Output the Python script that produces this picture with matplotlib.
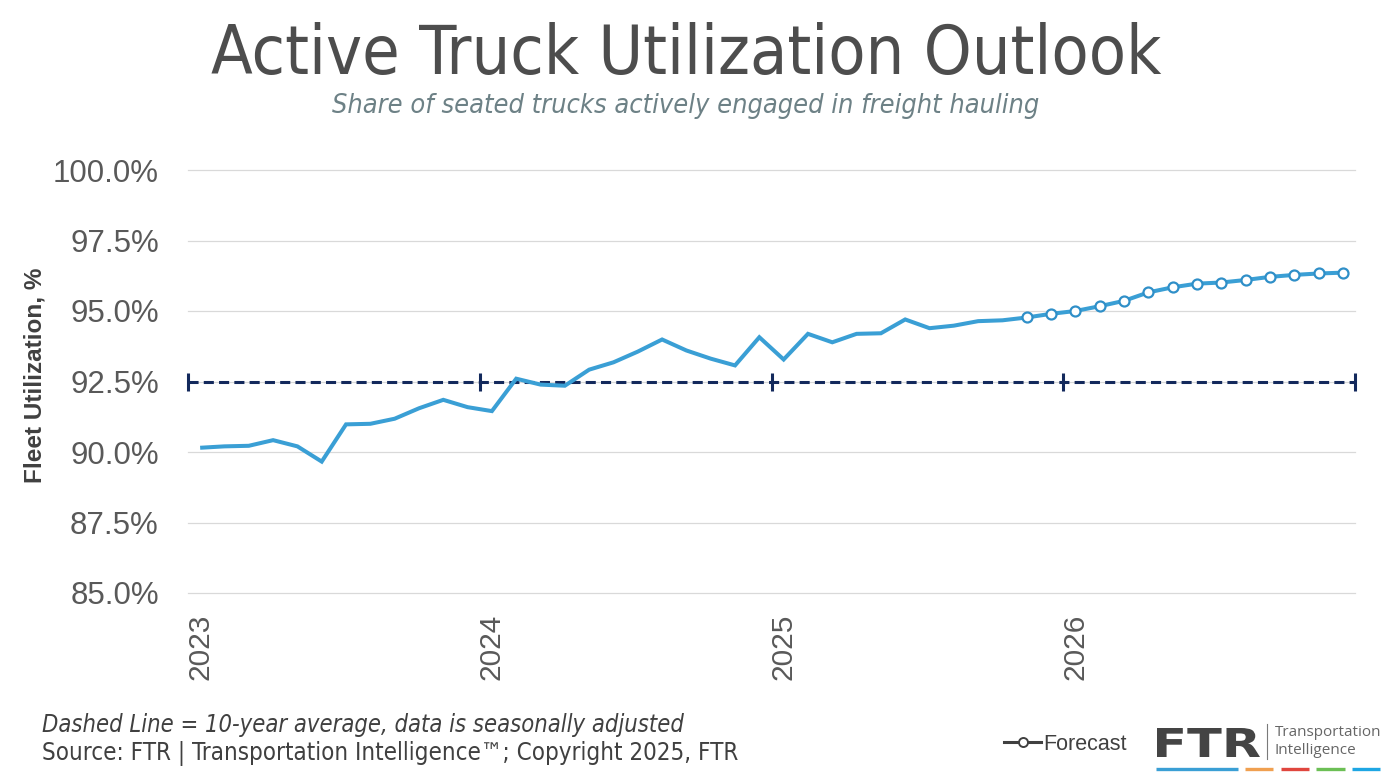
import matplotlib
matplotlib.use("Agg")
import matplotlib.pyplot as plt
from matplotlib.lines import Line2D
from matplotlib.textpath import TextPath
from matplotlib.patches import PathPatch
from matplotlib.font_manager import FontProperties
from matplotlib.transforms import Affine2D
import numpy as np

# ---------------- data ----------------
months = [f"{y}-{m:02d}" for y in (2023, 2024, 2025, 2026) for m in range(1, 13)]
year_labels = ["2023", "2024", "2025", "2026"]
utilization = [
    90.15, 90.20, 90.22, 90.42, 90.20, 89.66, 90.98, 91.00, 91.18, 91.55, 91.85, 91.59,
    91.45, 92.60, 92.39, 92.35, 92.92, 93.18, 93.56, 93.99, 93.60, 93.31, 93.07, 94.07,
    93.28, 94.19, 93.89, 94.19, 94.21, 94.70, 94.39, 94.48, 94.64, 94.67, 94.77, 94.90,
    95.00, 95.17, 95.36, 95.66, 95.84, 95.97, 96.01, 96.10, 96.21, 96.28, 96.33, 96.36,
]
forecast_start = "2025-11"
ten_year_avg = 92.5
y_ticks = [85.0, 87.5, 90.0, 92.5, 95.0, 97.5, 100.0]

# ---------------- figure ----------------
W, H = 1388, 777
fig = plt.figure(figsize=(W / 100, H / 100), dpi=100)
fig.patch.set_facecolor("white")

def fx(px):
    return px / W

def fy(py):
    return 1 - py / H

ax_l, ax_r, ax_t, ax_b = 188, 1355, 170, 593
ax = fig.add_axes([fx(ax_l), fy(ax_b), (ax_r - ax_l) / W, (ax_b - ax_t) / H])

x = np.arange(len(months))
fi = months.index(forecast_start)
blue = "#3a9fd5"
navy = "#13295c"
txt = "#595959"
dark = "#404040"

ax.set_xlim(-0.5, len(months) - 0.5)
ax.set_ylim(y_ticks[0], y_ticks[-1])

# gridlines
for v in y_ticks:
    ax.axhline(v, color="#d9d9d9", lw=0.9, zorder=1, clip_on=False)

# 10-year average dashed line (acts as category axis)
ax.axhline(ten_year_avg, color=navy, lw=2.2, dashes=(3.3, 1.7),
           dash_capstyle="butt", zorder=2, clip_on=False)
bounds = np.arange(-0.5, len(months), 12)
ax.plot(bounds, [ten_year_avg] * len(bounds), ls="none", marker="|",
        markersize=13.5, mew=2.2, color=navy, zorder=2, clip_on=False)

# series
ax.plot(x, utilization, color=blue, lw=2.9, zorder=3, solid_joinstyle="miter",
        solid_capstyle="butt")
ax.plot(x[fi:], utilization[fi:], ls="none", marker="o", markersize=7.2,
        mfc="white", mec="#2f8fc8", mew=1.6, zorder=4)

for s in ax.spines.values():
    s.set_visible(False)

ax.set_yticks(y_ticks)
ax.set_yticklabels([f"{v:.1f}%" for v in y_ticks], fontsize=22.5, color=txt,
                   family="Liberation Sans")
ax.tick_params(axis="y", length=0, pad=21)

ax.set_xticks([months.index(f"{y}-01") for y in year_labels])
ax.set_xticklabels(year_labels, rotation=90, fontsize=21.5, color=txt,
                   family="Liberation Sans", va="top", ha="center")
ax.tick_params(axis="x", length=0, pad=15)

ax.set_ylabel("Fleet Utilization, %", fontsize=17.5, fontweight="bold",
              color=dark, family="Liberation Sans")
ax.yaxis.set_label_coords((47 - ax_l) / (ax_r - ax_l), (ax_b - 375.5) / (ax_b - ax_t))

# ---------------- texts ----------------
r = fig.canvas.get_renderer()

def fit(t, target_w):
    w = t.get_window_extent(r).width
    t.set_fontsize(t.get_fontsize() * target_w / w)

title = fig.text(fx(686), fy(74), "Active Truck Utilization Outlook", ha="center",
                 va="baseline", fontsize=50, color="#4d4d4d", family="DejaVu Sans",
                 fontstretch="condensed")
fit(title, 952)
sub = fig.text(fx(686), fy(113), "Share of seated trucks actively engaged in freight hauling",
               ha="center", va="baseline", fontsize=18, color="#6d8186",
               family="DejaVu Sans", style="italic", fontstretch="condensed")
fit(sub, 707)
f1 = fig.text(fx(42), fy(732), "Dashed Line = 10-year average, data is seasonally adjusted",
              ha="left", va="baseline", fontsize=16, color=dark, family="DejaVu Sans",
              style="italic", fontstretch="condensed")
fit(f1, 643)
f2 = fig.text(fx(42), fy(760), "Source: FTR | Transportation Intelligence\u2122; Copyright 2025, FTR",
              ha="left", va="baseline", fontsize=16, color=dark, family="DejaVu Sans",
              fontstretch="condensed")
fit(f2, 699)

# legend
leg_handle = Line2D([], [], color=dark, lw=2.2, marker="o", markersize=6.5,
                    mfc="white", mec=dark, mew=1.4)
ax.legend([leg_handle], ["Forecast"], loc="center left", frameon=False,
          bbox_to_anchor=(fx(993), fy(744)), bbox_transform=fig.transFigure,
          handlelength=1.75, handletextpad=0.1, borderpad=0,
          prop={"family": "Liberation Sans", "size": 15.5}, labelcolor=dark)

# FTR logo
lax = fig.add_axes([0, 0, 1, 1], facecolor="none")
lax.set_xlim(0, W)
lax.set_ylim(H, 0)
lax.axis("off")
tp = TextPath((0, 0), "FTR", size=100, prop=FontProperties(family="DejaVu Sans", weight="heavy"))
bb = tp.get_extents()
tr = (Affine2D().translate(-bb.x0, -bb.y0)
      .scale(103 / bb.width, -29 / bb.height)
      .translate(1157, 757))
lax.add_patch(PathPatch(tr.transform_path(tp), color="#444444", lw=0))
lax.plot([1267, 1267], [724, 759], color="#7a7a7a", lw=0.8)
lax.text(1275, 733, "Transportation", fontsize=11, color="#666666",
         family="Open Sans", va="center", ha="left")
lax.text(1275, 750, "Intelligence", fontsize=11, color="#666666",
         family="Open Sans", va="center", ha="left")
bars = [(1156, 1238, "#3a9fd5"), (1245, 1273, "#f0a050"), (1281, 1309, "#e0463e"),
        (1316, 1345, "#6cbf55"), (1352, 1380, "#1ea6e3")]
for a, b, c in bars:
    lax.plot([a, b], [769, 769], color=c, lw=2.4, solid_capstyle="butt")

fig.savefig("out.png", dpi=100, facecolor="white")
